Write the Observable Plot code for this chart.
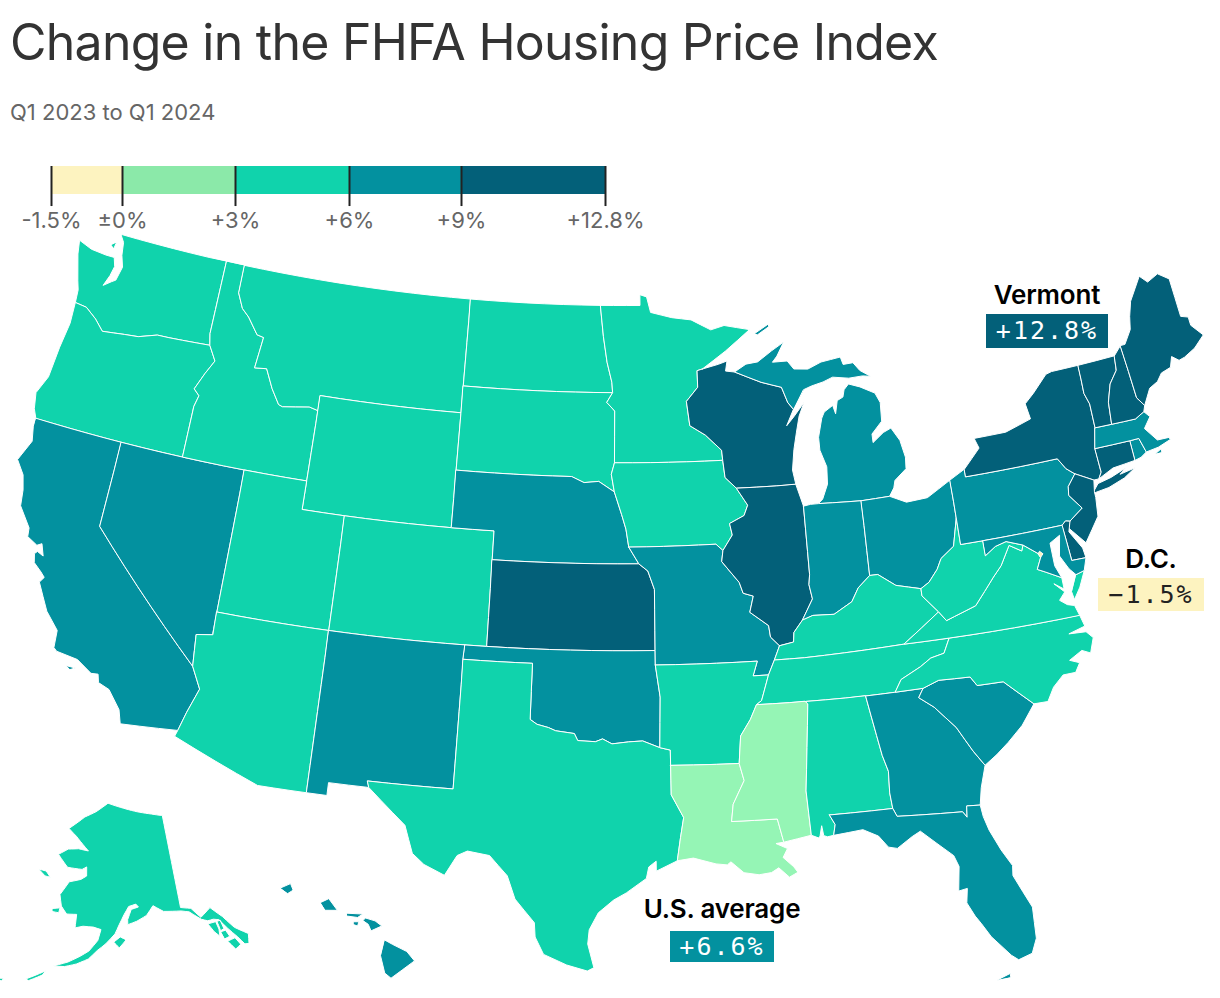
<!DOCTYPE html>
<html><head><meta charset="utf-8">
<script src="https://cdn.jsdelivr.net/npm/d3@7"></script>
<script src="https://cdn.jsdelivr.net/npm/@observablehq/plot@0.6"></script>
<style>
html,body{margin:0;background:#fff;}
#page{position:relative;width:1220px;height:998px;overflow:hidden;font-family:Inter,sans-serif;}
#map{position:absolute;left:0;top:0;width:1220px;height:998px}
#legend{position:absolute;left:0;top:150px;width:660px;height:90px}
#map svg,#legend svg{display:block;background:transparent;max-width:none}
h1{position:absolute;margin:0;left:10px;top:12px;font-size:50px;font-weight:400;color:#333;letter-spacing:-0.75px;white-space:nowrap;line-height:60px}
.sub{position:absolute;left:10px;top:98px;font-size:22px;color:#666;letter-spacing:0;line-height:28px;white-space:nowrap}
.lab{position:absolute;transform:translateX(-50%);font-size:26px;font-weight:600;color:#000;white-space:nowrap;line-height:30px;letter-spacing:-0.2px}
.box{position:absolute;font-family:"DejaVu Sans Mono",monospace;font-size:25px;text-align:center;white-space:nowrap;letter-spacing:2px}
</style></head><body>
<div id="page">
<div id="map"></div>
<div id="legend"></div>
<h1>Change in the FHFA Housing Price Index</h1>
<div class="sub">Q1 2023 to Q1 2024</div>
<div class="lab" style="left:1047px;top:280px">Vermont</div>
<div class="box" style="left:986px;top:314px;width:122px;height:34px;line-height:34px;background:#036079;color:#fff">+12.8%</div>
<div class="lab" style="left:1151px;top:544px">D.C.</div>
<div class="box" style="left:1098px;top:578px;width:106px;height:33px;line-height:33px;background:#fdf3c0;color:#222">−1.5%</div>
<div class="lab" style="left:722px;top:894px">U.S. average</div>
<div class="box" style="left:670px;top:931px;width:104px;height:31px;line-height:31px;background:#03919f;color:#fff">+6.6%</div>
</div>
<script>
// ---- values ----
const legendBreaks = [-1.5, 0, 3, 6, 9, 12.8];
const legendLabels = ["-1.5%", "±0%", "+3%", "+6%", "+9%", "+12.8%"];
const legendColors = ["#fdf3c0", "#8be9a9", "#10d3ac", "#03919f", "#036079"];
const mapColors = ["#fdf3c0", "#95f5b5", "#10d3ac", "#03919f", "#036079"];
const stateNames = ["WA","OR","CA","NV","ID","MT","WY","UT","AZ","CO","NM","ND","SD","NE","KS","OK","TX","MN","IA","MO","AR","LA","WI","IL","MI","IN","OH","KY","TN","MS","AL","GA","FL","SC","NC","VA","WV","PA","NY","NJ","DE","MD","CT","RI","MA","VT","NH","ME","AK","HI","DC"];
const stateValues = [5.0,4.6,7.0,7.2,4.2,4.4,5.4,4.5,5.2,4.3,7.6,5.1,5.6,7.3,9.4,7.0,3.4,5.2,5.9,7.5,5.4,1.8,10.2,9.2,8.7,8.1,8.6,5.9,5.6,2.6,5.7,7.6,6.9,7.4,5.9,5.8,5.5,8.3,9.6,9.8,9.1,6.4,10.1,8.7,8.2,12.8,10.5,9.6,4.9,6.7,-1.5];

// ---- shared border chains, lon/lat ----
const sc=[[-92.02,46.71],[-92.29,46.66],[-92.29,46.08],[-92.88,45.6],[-92.75,44.75],[-92.0,44.4],[-91.25,43.85],[-91.22,43.5]];
const miss1=[[-91.22,43.5],[-91.15,42.9],[-90.64,42.51]];
const miss2=[[-90.64,42.51],[-90.15,41.9],[-90.35,41.55],[-91.05,41.3],[-90.95,40.9],[-91.42,40.38]];
const miss3=[[-91.42,40.38],[-91.5,40.0],[-90.75,39.25],[-90.6,38.87],[-90.15,38.75],[-90.35,38.2],[-89.55,37.7],[-89.5,37.3],[-89.13,36.98]];
const miss4=[[-89.13,36.98],[-89.4,36.5]];
const miss5=[[-89.4,36.5],[-89.7,36.0]];
const miss6=[[-89.7,36.0],[-90.07,35.13],[-90.3,35.0]];
const miss7=[[-90.3,35.0],[-90.6,34.5],[-91.05,33.95],[-91.17,33.0]];
const miss8=[[-91.17,33.0],[-91.0,32.4],[-91.5,31.6],[-91.6,31.0]];
const ohio1=[[-89.13,36.98],[-88.5,37.07],[-88.45,37.4],[-88.03,37.8]];
const ohio2=[[-88.03,37.8],[-87.55,37.93],[-86.6,37.9],[-85.75,38.27],[-85.4,38.72],[-84.82,39.1]];
const ohio3=[[-84.82,39.1],[-84.45,39.1],[-83.7,38.65],[-82.6,38.42]];
const ohio4=[[-82.6,38.42],[-82.2,38.6],[-81.75,39.0],[-81.5,39.35],[-80.85,39.7],[-80.52,40.64]];
const miro1=[[-98.5,43.0],[-97.9,42.8],[-97.2,42.85],[-96.45,42.49]];
const miro2=[[-96.45,42.49],[-96.1,41.7],[-95.9,41.2],[-95.77,40.58]];
const miro3=[[-95.77,40.58],[-95.31,40.0]];
const miro4=[[-95.31,40.0],[-94.9,39.75],[-94.61,39.11]];
const redN=[[-96.56,45.94],[-96.6,46.3],[-96.85,47.0],[-97.05,47.9],[-97.23,49.0]];
const sdmn=[[-96.45,43.5],[-96.45,45.3],[-96.85,45.6],[-96.56,45.94]];
const sdia=[[-96.45,42.49],[-96.6,43.1],[-96.45,43.5]];
const redS=[[-100,34.56],[-99.7,34.4],[-99.2,34.3],[-98.9,34.2],[-98.1,34.12],[-97.95,33.88],[-97.2,33.85],[-96.9,33.95],[-96.5,33.78],[-95.8,33.85],[-95.2,33.88],[-94.48,33.64]];
const idmt=[[-116.05,49],[-116.05,48],[-115.7,47.5],[-115.3,47.25],[-114.7,46.7],[-114.35,46.65],[-114.5,45.55],[-113.9,45.6],[-113.45,44.95],[-113,44.45],[-112.8,44.4],[-111.5,44.55],[-111.05,44.47]];
const snake=[[-117.03,42],[-117.03,43.8],[-116.9,44.2],[-117.2,44.4],[-116.85,45.0],[-116.5,45.5],[-116.92,46]];
const colum=[[-116.92,46],[-119,45.93],[-119.6,45.92],[-120.5,45.7],[-121.2,45.65],[-122.3,45.55],[-122.8,45.9],[-123.4,46.2],[-124.0,46.25]];
const nvaz=[[-114.05,36.2],[-114.75,36.1],[-114.63,35.0]];
const azca=[[-114.63,35.0],[-114.15,34.27],[-114.5,33.4],[-114.72,32.72]];
const wabash=[[-87.53,41.72],[-87.53,39.35],[-87.6,39],[-87.5,38.5],[-88.03,37.8]];
const miwi=[[-90.4,46.55],[-89.1,46.13],[-88.1,45.9],[-87.85,45.35],[-87.6,45.1]];
const wvmd=[[-79.48,39.2],[-78.97,39.45],[-78.45,39.55],[-77.72,39.32]];
const vawv=[[-77.72,39.32],[-77.83,39.13],[-78.35,39.4],[-78.87,38.76],[-79.3,38.42],[-80.3,37.55],[-81.3,37.3],[-81.68,37.2],[-81.97,37.54]];
const kywv=[[-81.97,37.54],[-82.6,38.17],[-82.6,38.42]];
const kyva=[[-81.97,37.54],[-83.68,36.6]];
const potomac=[[-77.72,39.32],[-77.12,38.93],[-77.04,38.79],[-77.3,38.4],[-76.95,38.25],[-76.3,37.95]];
const tnnc=[[-81.68,36.59],[-82.0,36.1],[-82.6,36.0],[-83.1,35.75],[-84.0,35.4],[-84.32,34.99]];
const scga=[[-83.11,35.0],[-83.35,34.7],[-82.75,34.3],[-81.95,33.5],[-81.4,32.6],[-81.0,32.05]];
const ncsc=[[-83.11,35.0],[-82.4,35.2],[-81.04,35.15],[-80.8,34.82],[-79.67,34.8],[-78.55,33.86]];
const gaal=[[-85.6,34.98],[-85.18,32.87],[-85.0,32.3],[-85.05,31.55],[-85.0,31.0]];
const gafl=[[-85.0,31.0],[-84.86,30.71],[-82.2,30.57],[-82.05,30.36],[-82.0,30.75],[-81.45,30.71]];
const alms=[[-88.2,34.99],[-88.1,34.9],[-88.47,31.9],[-88.4,30.35]];
const alfl=[[-87.6,31.0],[-87.4,30.65],[-87.5,30.28]];
const latx=[[-94.04,33.02],[-94.04,32.0],[-93.55,31.2],[-93.7,30.5],[-93.85,29.7]];
const txar=[[-94.48,33.64],[-94.04,33.55],[-94.04,33.02]];
const okar=[[-94.62,36.5],[-94.43,35.39],[-94.48,33.64]];
const pearl=[[-89.73,31.0],[-89.53,30.18]];
const nypa=[[-75.35,42],[-75.05,41.6],[-74.7,41.36]];
const panj=[[-74.7,41.36],[-75.13,40.98],[-75.2,40.68],[-74.72,40.15],[-75.4,39.8]];
const champlain=[[-73.35,45],[-73.4,44],[-73.25,43.6],[-73.27,42.75]];
const nyct=[[-73.5,42.05],[-73.49,41.2],[-73.66,41.0]];
const vtnh=[[-71.5,45.01],[-71.6,44.5],[-72.05,44.1],[-72.35,43.5],[-72.46,42.73]];
const nhme=[[-71.08,45.3],[-70.98,43.4],[-70.7,43.07]];
const padeArc=[[-75.4,39.8],[-75.6,39.84],[-75.79,39.72]];
const rev=a=>[...a].reverse();
const ring=(...parts)=>parts.flat();

const shapes={
WA:[ring([[-117.03,49],[-122.75,49],[-122.5,48.75],[-122.4,48.3],[-122.2,47.9],[-122.35,47.4],[-122.55,47.3],[-122.9,47.1],[-122.7,47.5],[-122.6,47.85],[-122.75,48.15],[-123.2,48.15],[-124.0,48.2],[-124.73,48.38],[-124.6,47.9],[-124.2,47.0],[-124.05,46.7]],rev(colum),[[-117.04,46.4]]),
    [[-123.1,48.55],[-122.85,48.7],[-122.9,48.45]]],
OR:[ring([[-124.2,42]],snake,colum,[[-123.95,45.5],[-124.1,44.6],[-124.2,43.5],[-124.55,42.85],[-124.4,42.3]])],
CA:[ring([[-124.2,42],[-120,42],[-120,39]],azca,[[-117.12,32.53],[-117.3,33.0],[-117.9,33.6],[-118.4,33.75],[-118.5,34.03],[-118.8,34.0],[-119.5,34.35],[-120.45,34.45],[-120.6,34.55],[-120.65,35.15],[-121.3,35.7],[-121.95,36.6],[-121.8,36.8],[-122.0,36.95],[-122.4,37.2],[-122.5,37.5],[-122.4,37.6],[-122.1,37.5],[-122.3,37.9],[-122.5,37.8],[-123.0,38.0],[-123.05,38.3],[-123.7,38.95],[-123.8,39.5],[-124.0,40.0],[-124.45,40.45],[-124.05,41.2],[-124.2,41.7]]),
    [[-119.9,34.05],[-119.5,34.05],[-119.7,33.95]]],
NV:[ring([[-120,42],[-114.04,42]],nvaz,[[-120,39]])],
ID:[ring(idmt,[[-111.05,42],[-114.04,42]],snake,[[-117.04,46.4],[-117.03,49]])],
MT:[ring(idmt,[[-111.05,45],[-104.05,45],[-104.05,49]])],
WY:[[[-111.05,45],[-104.05,45],[-104.05,41],[-111.05,41]]],
UT:[[[-114.04,42],[-111.05,42],[-111.05,41],[-109.05,41],[-109.05,37],[-114.05,37]]],
AZ:[ring([[-114.05,37],[-109.05,37],[-109.05,31.33],[-111.07,31.33],[-114.8,32.5]],rev(azca),rev(nvaz))],
CO:[[[-109.05,41],[-102.05,41],[-102.05,37],[-109.05,37]]],
NM:[[[-109.05,37],[-103,37],[-103.04,36.5],[-103.06,32],[-106.62,32],[-106.53,31.78],[-108.2,31.78],[-108.2,31.33],[-109.05,31.33]]],
ND:[ring([[-104.05,49]],rev(redN),[[-104.05,45.94]])],
SD:[ring([[-104.05,45.94]],rev(sdmn),rev(sdia),rev(miro1),[[-104.05,43]])],
NE:[ring([[-104.05,43]],miro1,miro2,miro3,[[-102.05,40],[-102.05,41],[-104.05,41]])],
KS:[ring([[-102.05,40]],miro4,[[-94.62,37],[-102.05,37]])],
OK:[ring([[-103,37],[-94.62,37]],okar,rev(redS),[[-100,36.5],[-103.04,36.5]])],
TX:[ring([[-103.04,36.5],[-100,36.5]],redS,txar,latx,[[-94.7,29.35],[-94.7,29.7],[-95.0,29.5],[-95.1,29.1],[-95.9,28.6],[-96.4,28.35],[-97.0,27.9],[-97.35,27.3],[-97.4,26.8],[-97.15,25.97],[-97.4,25.85],[-98.2,26.05],[-99.1,26.4],[-99.45,27.0],[-99.5,27.5],[-100.3,28.3],[-100.65,29.1],[-101.4,29.77],[-102.3,29.88],[-102.7,29.7],[-103.15,28.98],[-104.0,29.3],[-104.5,29.65],[-104.9,30.6],[-106.53,31.78],[-106.62,32],[-103.06,32]])],
MN:[ring([[-97.23,49],[-95.15,49],[-95.15,49.38],[-94.8,49.3],[-94.6,48.75],[-93.5,48.55],[-92.5,48.45],[-91.5,48.07],[-90.8,48.2],[-89.5,48.0],[-90.8,47.3]],sc,sdmn,redN)],
IA:[ring([[-96.45,43.5]],miss1,miss2,[[-91.73,40.61]],rev(miro2),sdia)],
MO:[ring([[-95.77,40.58],[-91.73,40.61]],miss3,miss4,miss5,[[-90.37,36.0],[-90.15,36.5],[-94.62,36.5],[-94.62,37]],rev(miro4),rev(miro3))],
AR:[ring([[-94.62,36.5],[-90.15,36.5],[-90.37,36.0]],miss6,miss7,[[-94.04,33.02]],rev(txar),rev(okar))],
LA:[ring([[-94.04,33.02]],miss8,pearl,[[-89.85,30.15],[-89.4,29.95],[-89.6,29.65],[-89.2,29.3],[-89.05,29.1],[-89.4,28.95],[-89.8,29.3],[-90.1,29.15],[-90.6,29.1],[-91.2,29.2],[-91.7,29.6],[-91.85,29.5],[-92.3,29.55],[-93.2,29.78]],rev(latx))],
WI:[ring([[-92.02,46.71],[-91.2,46.85],[-90.75,46.95],[-90.85,46.6]],miwi,[[-88.0,44.55],[-87.6,44.85],[-87.05,45.3],[-87.35,44.85],[-87.55,44.3],[-87.75,43.7],[-87.9,43.0],[-87.8,42.49]],rev(miss1),rev(sc))],
IL:[ring([[-87.8,42.49],[-87.53,41.72]],wabash,rev(ohio1),rev(miss3),rev(miss2))],
MI:[ring([[-84.8,41.7],[-83.45,41.73],[-83.2,42.0],[-83.1,42.25],[-82.5,42.6],[-82.45,43.0],[-82.6,43.6],[-82.95,44.07],[-83.35,43.95],[-83.9,43.65],[-83.9,43.95],[-83.35,44.35],[-83.3,45.0],[-83.5,45.35],[-84.2,45.63],[-84.75,45.78],[-85.0,45.6],[-85.1,45.35],[-85.4,45.25],[-85.55,44.8],[-85.65,45.1],[-86.1,44.9],[-86.25,44.7],[-86.5,44.05],[-86.5,43.6],[-86.25,43.0],[-86.3,42.4],[-86.6,41.9],[-86.82,41.76]]),
    ring(rev(miwi),[[-89.8,46.8],[-89.2,46.85],[-88.45,47.2],[-87.8,47.47],[-88.2,47.0],[-88.45,46.8],[-87.7,46.8],[-87.4,46.5],[-86.7,46.45],[-86.0,46.65],[-85.0,46.75],[-84.9,46.48],[-84.4,46.5],[-84.1,46.2],[-83.6,45.95],[-84.0,46.0],[-84.7,45.98],[-85.5,46.08],[-86.0,45.95],[-86.6,45.85],[-87.0,45.75]]),
    [[-89.25,47.85],[-88.5,48.15],[-88.5,48.05],[-89.1,47.8]]],
IN:[ring([[-87.53,41.72],[-87.2,41.76],[-86.82,41.76],[-84.8,41.7]],rev(ohio2),rev(wabash))],
OH:[ring([[-84.8,41.7],[-83.45,41.73],[-82.7,41.45],[-81.7,41.5],[-80.52,41.98]],rev(ohio4),rev(ohio3))],
KY:[ring(ohio1,ohio2,ohio3,rev(kywv),kyva,[[-88.07,36.5],[-89.4,36.5]],rev(miss4))],
TN:[ring([[-81.68,36.59],[-83.68,36.6],[-88.07,36.5]],miss5,miss6,[[-88.2,34.99],[-85.6,34.98]],[[-84.32,34.99]],rev(tnnc))],
MS:[ring([[-88.2,34.99]],alms.slice(1),rev(pearl),[[-91.6,31.0]],rev(miss8),rev(miss7))],
AL:[ring(gaal,[[-87.6,31.0]],alfl.slice(1),[[-87.75,30.25],[-87.9,30.3],[-87.95,30.65],[-88.05,30.3],[-88.1,30.23]],rev(alms))],
GA:[ring([[-84.32,34.99],[-83.11,35]],scga,[[-81.3,31.3]],rev(gafl),rev(gaal))],
FL:[ring(alfl.slice(0,1),gafl,[[-81.4,30.3],[-81.25,29.8],[-80.9,29.05],[-80.55,28.45],[-80.6,28.1],[-80.05,26.9],[-80.1,25.8],[-80.35,25.3],[-80.9,25.15],[-81.15,25.35],[-81.8,26.1],[-82.1,26.6],[-82.3,26.9],[-82.55,27.4],[-82.45,27.9],[-82.8,27.85],[-82.65,28.7],[-82.8,29.1],[-83.4,29.6],[-84.0,30.1],[-84.35,29.95],[-85.0,29.6],[-85.35,29.68],[-85.7,30.1],[-86.3,30.38]],rev(alfl)),
    [[-81.85,24.55],[-81.3,24.72],[-81.3,24.58]]],
SC:[ring(ncsc,[[-79.2,33.2],[-79.9,32.7],[-80.45,32.35]],rev(scga))],
NC:[ring([[-75.87,36.55]],tnnc,[[-83.11,35]],ncsc.slice(1),[[-77.95,33.85],[-77.6,34.3],[-77.1,34.65],[-76.55,34.65],[-76.3,34.95],[-76.7,35.1],[-76.1,35.35],[-75.75,35.2],[-75.5,35.7],[-75.75,35.95],[-76.5,36.0],[-75.75,36.15]])],
VA:[ring(potomac,[[-76.3,37.55],[-76.7,37.8],[-76.3,37.45],[-76.6,37.2],[-76.3,37.0],[-76.0,36.92],[-75.87,36.55],[-81.68,36.59],[-83.68,36.6]],rev(kyva),rev(vawv)),
    [[-75.65,37.95],[-75.25,38.03],[-75.6,37.5],[-75.95,37.12],[-76.0,37.4]]],
WV:[ring([[-80.52,40.64],[-80.52,39.72],[-79.48,39.72]],wvmd,vawv,kywv,ohio4)],
PA:[ring([[-80.52,41.98],[-79.76,42.27],[-79.76,42],[-75.35,42]],nypa,panj,padeArc,[[-80.52,39.72]])],
NY:[ring([[-79.76,42.27],[-78.9,42.9],[-79.05,43.26],[-77.5,43.27],[-76.2,43.55],[-76.3,44.1],[-75.8,44.4],[-75.0,44.95],[-74.7,45]],champlain,[[-73.5,42.05]],nyct.slice(1),[[-73.9,41.0]],rev(nypa),[[-79.76,42]]),
    [[-74.05,40.6],[-73.75,40.85],[-73.1,40.95],[-72.3,41.15],[-72.65,40.98],[-71.9,41.07],[-72.5,40.82],[-73.3,40.63],[-73.95,40.57]]],
NJ:[ring([[-74.7,41.36],[-73.9,41.0],[-74.0,40.6],[-74.0,40.4],[-74.1,39.75],[-74.9,38.95],[-75.4,39.45],[-75.55,39.6]],rev(panj))],
DE:[ring(rev(padeArc),[[-75.55,39.45],[-75.1,38.8],[-75.05,38.45],[-75.7,38.46]])],
MD:[ring([[-79.48,39.72],[-75.79,39.72],[-75.7,38.46],[-75.05,38.45],[-75.25,38.03],[-75.65,37.95],[-75.9,38.2],[-76.2,38.7],[-76.0,39.4],[-76.5,39.2],[-76.5,38.4],[-76.3,37.95]],rev(potomac),rev(wvmd))],
CT:[ring(nyct,[[-72.9,41.25],[-71.8,41.32],[-71.8,42.02]])],
RI:[[[-71.8,42.02],[-71.38,42.02],[-71.2,41.5],[-71.5,41.37],[-71.8,41.32]]],
MA:[[[-73.27,42.75],[-72.46,42.73],[-71.3,42.7],[-70.82,42.87],[-70.6,42.65],[-71.0,42.3],[-70.55,41.8],[-70.0,41.78],[-70.2,42.07],[-69.95,41.7],[-70.6,41.55],[-71.2,41.5],[-71.38,42.02],[-71.8,42.02],[-73.5,42.05]],
    [[-70.83,41.35],[-70.5,41.47],[-70.5,41.35]]],
VT:[ring(champlain,[[-72.46,42.73]],rev(vtnh))],
NH:[ring(vtnh,[[-71.3,42.7],[-70.82,42.87]],rev(nhme))],
ME:[ring(nhme,[[-70.25,43.6],[-69.8,43.75],[-69.5,44.0],[-69.0,44.1],[-68.8,44.45],[-68.5,44.25],[-68.2,44.3],[-67.6,44.5],[-67.0,44.85],[-67.45,45.3],[-67.45,45.6],[-67.8,45.7],[-67.8,47.07],[-68.3,47.36],[-68.9,47.18],[-69.23,47.46],[-70.0,46.7],[-70.25,46.2],[-70.4,45.75],[-70.85,45.3]])],
AK:[[[-141,69.65],[-144,70.0],[-148,70.4],[-152,70.85],[-156.6,71.35],[-160,70.4],[-163,69.75],[-166.8,68.35],[-164.5,67.7],[-162.6,67.0],[-161,66.4],[-163.5,66.5],[-166,66.3],[-168.1,65.6],[-165.4,64.5],[-162,64.5],[-161,64.8],[-160.8,63.9],[-162,63.5],[-164.5,63.1],[-166,61.7],[-165.3,60.6],[-164,59.9],[-162,60.0],[-162,59.0],[-162,58.65],[-160.5,58.9],[-158.5,58.9],[-157,58.7],[-157.5,57.6],[-159,56.5],[-160.5,55.9],[-162.5,55.2],[-164.9,54.6],[-163,54.7],[-161,55.1],[-159,55.7],[-157.5,56.6],[-156,57.3],[-154.3,58.3],[-153.5,59.2],[-152.5,60.2],[-151.5,61.0],[-150,61.2],[-149.5,60.9],[-151,60.7],[-151.8,59.7],[-151.8,59.2],[-150,59.5],[-148,60.0],[-146.5,60.9],[-144.5,60.2],[-141,59.95],[-139.5,59.7],[-137.5,58.7],[-136.4,58.4],[-135.3,58.4],[-134.3,58.2],[-133.2,57.1],[-132,56.0],[-131.2,55.1],[-130.5,55.0],[-130,55.95],[-132,57.0],[-133.5,58.4],[-135.3,59.6],[-137.5,58.9],[-139,60.0],[-141,60.3]],
    [[-154.5,57.5],[-153.3,58.0],[-152.2,57.7],[-153.5,56.9]],
    [[-167,60.2],[-165.5,60.4],[-165.6,59.9],[-166.9,59.9]],
    [[-171.7,63.7],[-170,63.7],[-168.8,63.2],[-170,63.2]],
    [[-169,52.8],[-167,53.6],[-166,54.0],[-166.5,53.5],[-168.5,52.7]],
    [[-174.5,52.0],[-172.5,52.3],[-172.8,52.0],[-174.5,51.8]],
    [[-177.5,51.9],[-176,52],[-176,51.7],[-177.5,51.7]],
    [[-133.9,55.9],[-132.5,56.0],[-131.9,55.2],[-133,54.9]],
    [[-134.6,57.0],[-133.7,57.0],[-133.3,56.3],[-134.3,56.2]],
    [[-136.5,58.1],[-135,58.1],[-134.8,57.3],[-135,56.6],[-135.8,57.2]],
    [[-134.7,58.1],[-134.1,58.1],[-133.9,57.2],[-134.6,57.1]]],
HI:[[[-155.9,20.26],[-155.6,20.1],[-155.08,19.85],[-154.8,19.52],[-155.67,18.92],[-155.9,19.1],[-156.05,19.7]],
    [[-156.7,20.95],[-156.6,21.03],[-156.25,20.93],[-156.0,20.75],[-156.4,20.58],[-156.5,20.8]],
    [[-157.3,21.2],[-156.7,21.17],[-156.9,21.05],[-157.3,21.1]],
    [[-158.28,21.57],[-157.97,21.71],[-157.65,21.3],[-158.1,21.3]],
    [[-159.78,22.07],[-159.4,22.23],[-159.3,22.0],[-159.5,21.88]],
    [[-157.05,20.9],[-156.85,20.9],[-156.9,20.75],[-157.05,20.8]]],
DC:[[[-77.12,38.93],[-77.04,39.0],[-76.91,38.89],[-77.04,38.79]]]
};

// build geometry: close rings, drop duplicates, follow parallels, fix winding
function prepRing(r){
  const c=r.filter((p,i)=>i===0||p[0]!==r[i-1][0]||p[1]!==r[i-1][1]);
  const closed=[...c,c[0]];
  const out=[];
  for(let i=0;i<closed.length-1;i++){
    const [a,b]=[closed[i],closed[i+1]];
    const n=Math.max(1,Math.ceil(Math.hypot(b[0]-a[0],b[1]-a[1])));
    for(let k=0;k<n;k++) out.push([a[0]+(b[0]-a[0])*k/n,a[1]+(b[1]-a[1])*k/n]);
  }
  out.push(out[0]);
  return d3.geoArea({type:"Polygon",coordinates:[out]})>2*Math.PI?out.reverse():out;
}
const features=stateNames.map((name,i)=>({type:"Feature",properties:{name,value:stateValues[i]},
  geometry:{type:"MultiPolygon",coordinates:shapes[name].map(r=>[prepRing(r)])}}));

const map=Plot.plot({
  width:1220,height:998,margin:0,
  projection:d3.geoAlbersUsa().scale(1643).translate([610,601]),
  color:{type:"threshold",domain:legendBreaks.slice(1,5),range:mapColors},
  marks:[Plot.geo(features,{fill:d=>d.properties.value,stroke:"#fff",strokeWidth:1,strokeLinejoin:"round"})]
});
document.getElementById("map").append(map);

const bins=d3.pairs(legendBreaks).map(([a,b],i)=>({a,b,c:legendColors[i]}));
const legend=Plot.plot({
  width:660,height:90,margin:0,
  x:{type:"linear",domain:legendBreaks,range:[51,122,235,349,461,605],axis:null},
  y:{type:"linear",domain:[0,1],range:[16,44],axis:null},
  marks:[
    Plot.rectX(bins,{x1:"a",x2:"b",y1:0,y2:1,fill:d=>d.c}),
    Plot.ruleX(legendBreaks,{y1:0,y2:1.43,stroke:"#222",strokeWidth:2}),
    Plot.text(legendBreaks,{x:d=>d,y:1.43,dy:14,text:(d,i)=>legendLabels[i],fontSize:22,fill:"#666",fontFamily:"Inter,sans-serif"})
  ]
});
document.getElementById("legend").append(legend);
</script>
</body></html>
